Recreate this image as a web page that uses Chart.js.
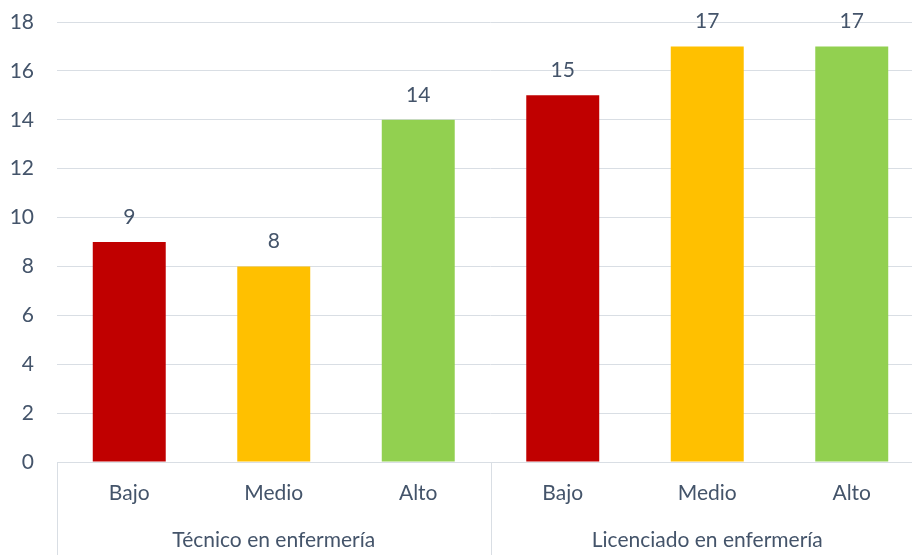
<!DOCTYPE html>
<html>
<head>
<meta charset="utf-8">
<script src="https://cdn.jsdelivr.net/npm/chart.js@4/dist/chart.umd.min.js"></script>
<style>
  html, body { margin: 0; padding: 0; background: #fff; overflow: hidden; }
  #wrap { width: 924px; height: 555px; }
</style>
</head>
<body>
<div id="wrap"><canvas id="nivelChart" width="924" height="555"></canvas></div>
<script>
const niveles = ['Bajo', 'Medio', 'Alto', 'Bajo', 'Medio', 'Alto'];
const grupos = ['Técnico en enfermería', 'Licenciado en enfermería'];
const valores = [9, 8, 14, 15, 17, 17];
const yTicks = [0, 2, 4, 6, 8, 10, 12, 14, 16, 18];

const colores = ['#C00000', '#FFC000', '#92D050', '#C00000', '#FFC000', '#92D050'];
const textColor = '#44546A';
const lineColor = '#D9DEE4';
const fontFamily = 'Lato, "Open Sans", sans-serif';
const fontSize = 21;

// value above each bar
const valueLabels = {
    id: 'valueLabels',
    afterDatasetsDraw(chart) {
        const ctx = chart.ctx;
        const meta = chart.getDatasetMeta(0);
        ctx.save();
        ctx.fillStyle = textColor;
        ctx.font = fontSize + 'px ' + fontFamily;
        ctx.textAlign = 'center';
        ctx.textBaseline = 'middle';
        meta.data.forEach((bar, i) => {
            ctx.fillText(String(valores[i]), bar.x, bar.y - 25);
        });
        ctx.restore();
    }
};

// second row of the category axis: group names and separators
const groupAxis = {
    id: 'groupAxis',
    afterDraw(chart) {
        const ctx = chart.ctx;
        const x = chart.scales.x;
        const bottom = chart.chartArea.bottom;
        const perGroup = niveles.length / grupos.length;
        const step = (x.right - x.left) / niveles.length;
        ctx.save();
        ctx.strokeStyle = lineColor;
        ctx.lineWidth = 1;
        for (let g = 0; g <= grupos.length; g++) {
            const px = Math.round(x.left + g * perGroup * step) + 0.5;
            ctx.beginPath();
            ctx.moveTo(px, bottom);
            ctx.lineTo(px, chart.height);
            ctx.stroke();
        }
        ctx.fillStyle = textColor;
        ctx.font = fontSize + 'px ' + fontFamily;
        ctx.textAlign = 'center';
        ctx.textBaseline = 'middle';
        grupos.forEach((name, g) => {
            const cx = x.left + (g + 0.5) * perGroup * step;
            ctx.fillText(name, cx, bottom + 78);
        });
        ctx.restore();
    }
};

const ctx = document.getElementById('nivelChart').getContext('2d');
new Chart(ctx, {
    type: 'bar',
    data: {
        labels: niveles,
        datasets: [{
            data: valores,
            backgroundColor: colores,
            categoryPercentage: 1,
            barPercentage: 0.505
        }]
    },
    options: {
        responsive: false,
        animation: false,
        layout: { padding: { top: 22, right: 0, left: 0, bottom: 0 } },
        plugins: {
            legend: { display: false },
            tooltip: { enabled: false }
        },
        scales: {
            x: {
                afterFit: s => { s.height = 93; s.paddingLeft = 0; s.paddingRight = 0; },
                grid: { display: false, drawTicks: false },
                border: { color: lineColor },
                ticks: { color: textColor, font: { family: fontFamily, size: fontSize }, padding: 19 }
            },
            y: {
                min: 0,
                max: 18,
                afterFit: s => { s.width = 57; s.paddingTop = 0; s.paddingBottom = 0; },
                afterBuildTicks: s => { s.ticks = yTicks.map(v => ({ value: v })); },
                grid: { color: lineColor, drawTicks: false },
                border: { display: false },
                ticks: { color: textColor, font: { family: fontFamily, size: fontSize }, padding: 23 }
            }
        }
    },
    plugins: [valueLabels, groupAxis]
});
</script>
</body>
</html>
